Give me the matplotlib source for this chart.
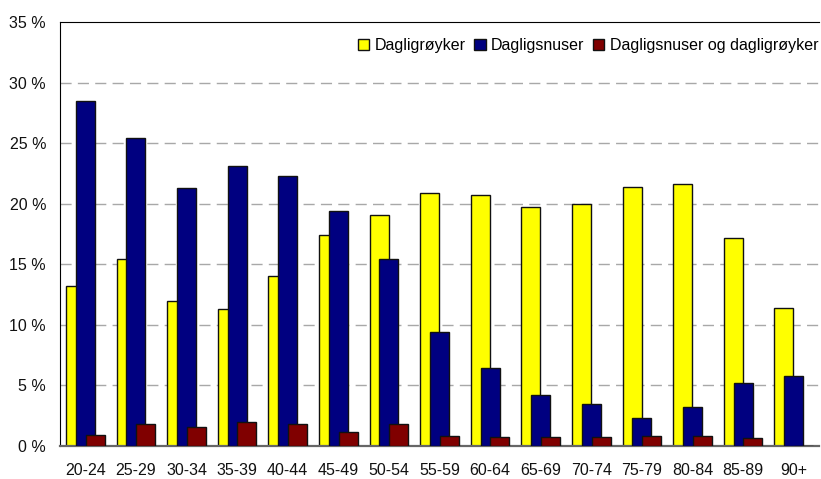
import matplotlib
matplotlib.use("Agg")
import matplotlib.pyplot as plt
import numpy as np
from matplotlib.ticker import FuncFormatter

categories = ["20-24", "25-29", "30-34", "35-39", "40-44", "45-49", "50-54",
              "55-59", "60-64", "65-69", "70-74", "75-79", "80-84", "85-89", "90+"]
roykere = [13.2, 15.4, 12.0, 11.3, 14.0, 17.4, 19.1, 20.85, 20.7, 19.75, 20.0, 21.4, 21.6, 17.2, 11.4]
snusere = [28.5, 25.4, 21.3, 23.1, 22.3, 19.4, 15.4, 9.4, 6.4, 4.2, 3.5, 2.3, 3.2, 5.2, 5.8]
begge = [0.88, 1.84, 1.57, 1.96, 1.84, 1.13, 1.84, 0.85, 0.74, 0.74, 0.74, 0.85, 0.85, 0.63, 0.0]
series_names = ["Dagligrøyker", "Dagligsnuser", "Dagligsnuser og dagligrøyker"]
colors = ["#FFFF00", "#000080", "#800000"]

plt.rcParams['font.family'] = ['Liberation Sans', 'DejaVu Sans']

fig = plt.figure(figsize=(8.21, 4.79), dpi=100)
ax = fig.add_axes([60/821, 33/479, 759/821, 424/479])

x = np.arange(len(categories))
w = 0.375
off = 0.195
for i, (vals, name, c) in enumerate(zip([roykere, snusere, begge], series_names, colors)):
    ax.bar(x + (i - 1) * off, vals, width=w, color=c, edgecolor="#111111",
           linewidth=1.0, label=name, zorder=2 + i)

ax.set_xlim(-0.5, len(categories) - 0.5)
ax.set_ylim(0, 35)
ax.set_yticks(np.arange(0, 36, 5))
ax.yaxis.set_major_formatter(FuncFormatter(lambda v, p: f"{int(v)} %"))
ax.set_xticks(x)
ax.set_xticklabels(categories)
ax.tick_params(axis='both', length=0, labelsize=11.5, colors="#111111")
ax.tick_params(axis='x', pad=12)
ax.tick_params(axis='y', pad=10)

for yv in range(5, 35, 5):
    ax.axhline(yv, color="#a8a8a8", linewidth=1.0, linestyle=(0, (8, 4.5)), zorder=1)

ax.spines['right'].set_visible(False)
ax.spines['top'].set_color('black')
ax.spines['left'].set_color('black')
ax.spines['bottom'].set_color('#666666')
ax.spines['bottom'].set_linewidth(1.6)

leg = ax.legend(loc='upper right', bbox_to_anchor=(1.012, 0.985), ncol=3, frameon=False,
                fontsize=11.5, handlelength=0.7, handleheight=0.7, handletextpad=0.35,
                columnspacing=0.55, borderaxespad=0.2)

fig.savefig("out.png", dpi=100)
